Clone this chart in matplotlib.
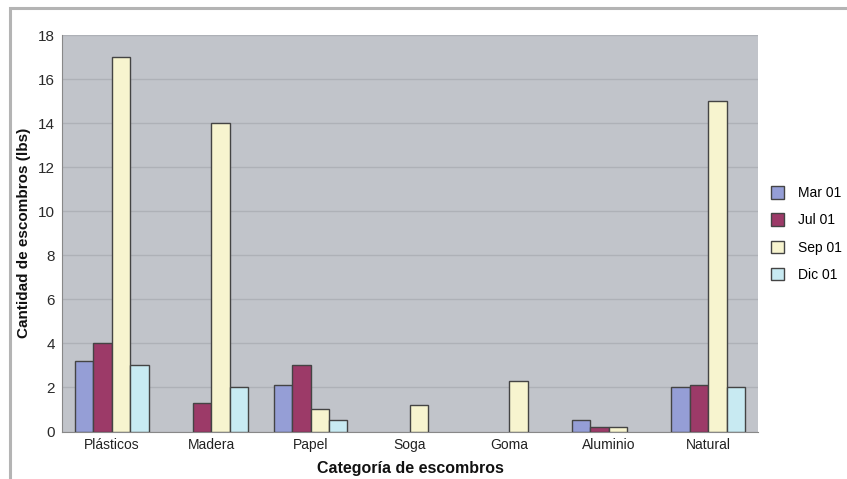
import numpy as np
import matplotlib
matplotlib.use("Agg")
import matplotlib.pyplot as plt
from matplotlib.patches import Rectangle

categories = ["Plásticos", "Madera", "Papel", "Soga", "Goma", "Aluminio", "Natural"]
series_names = ["Mar 01", "Jul 01", "Sep 01", "Dic 01"]
mar_01 = [3.2, 0.0, 2.1, 0.0, 0.0, 0.5, 2.0]
jul_01 = [4.0, 1.3, 3.0, 0.0, 0.0, 0.2, 2.1]
sep_01 = [17.0, 14.0, 1.0, 1.2, 2.3, 0.2, 15.0]
dic_01 = [3.0, 2.0, 0.5, 0.0, 0.0, 0.0, 2.0]
y_ticks = [0, 2, 4, 6, 8, 10, 12, 14, 16, 18]

colors = ["#959ed6", "#9c3a68", "#f7f4cf", "#c8eaf2"]
edge = "#444444"

plt.rcParams["font.family"] = ["Liberation Sans", "DejaVu Sans"]

fig = plt.figure(figsize=(8.47, 4.79), dpi=100)
fig.patch.set_facecolor("white")

# outer frame around the chart
fig.patches.append(Rectangle((10 / 847, -0.1), 1.0, 1 - 8 / 479 + 0.1,
                             transform=fig.transFigure, fill=False,
                             edgecolor="#b4b4b4", linewidth=2.2))

ax = fig.add_axes([62 / 847, 1 - 431.5 / 479, (758 - 62) / 847, (431.5 - 35) / 479])
ax.set_facecolor("#c1c4ca")

x = np.arange(len(categories))
w = 0.185
all_series = [mar_01, jul_01, sep_01, dic_01]
for i, (vals, name, c) in enumerate(zip(all_series, series_names, colors)):
    offs = (i - 1.5) * w
    vals = np.array(vals)
    xs = x + offs
    mask = vals > 0
    ax.bar(xs[mask], vals[mask], width=w, color=c, edgecolor=edge,
           linewidth=1.0, label=name, zorder=3)

ax.set_xlim(-0.5, len(categories) - 0.5)
ax.set_ylim(0, 18)
ax.set_yticks(y_ticks)
ax.yaxis.grid(True, color="#aeb1b7", linewidth=1.0, zorder=0)
ax.set_axisbelow(True)
ax.set_xticks(x)
ax.set_xticklabels(categories, fontsize=10, color="#222222")
ax.tick_params(axis="x", length=0, pad=5)
ax.tick_params(axis="y", labelsize=11, length=0, width=1,
               color="#999999", pad=5)
for lab in ax.get_yticklabels():
    lab.set_color("#2a2a2a")

for s in ["top", "right"]:
    ax.spines[s].set_visible(False)
ax.spines["left"].set_color("#888888")
ax.spines["bottom"].set_color("#888888")

ax.set_ylabel("Cantidad de escombros (lbs)", fontsize=11, fontweight="bold",
              color="#111111", labelpad=5)
ax.set_xlabel("Categoría de escombros", fontsize=11.5, fontweight="bold",
              color="#111111", labelpad=6)

leg = ax.legend(loc="upper left", bbox_to_anchor=(1.0, 0.65), frameon=False,
                fontsize=10, handlelength=1.0, handleheight=1.0,
                labelspacing=0.95, handletextpad=1.0)

fig.savefig("out.png", dpi=100)
